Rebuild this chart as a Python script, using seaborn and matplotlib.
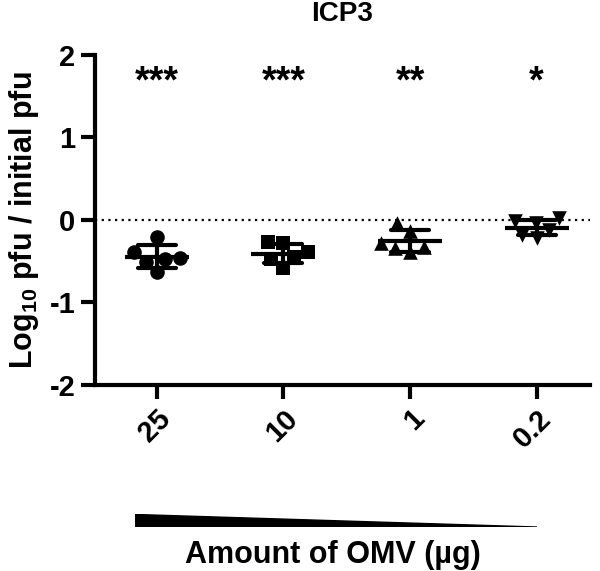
import numpy as np
import pandas as pd
import matplotlib
matplotlib.use("Agg")
import matplotlib.pyplot as plt
import seaborn as sns

# values (log10 pfu / initial pfu)
amounts = ["25", "10", "1", "0.2"]
vals_25 = [-0.21, -0.48, -0.63, -0.39, -0.51, -0.46]
vals_10 = [-0.28, -0.39, -0.58, -0.45, -0.48, -0.27]
vals_1 = [-0.14, -0.33, -0.04, -0.39, -0.34, -0.28]
vals_02 = [-0.02, -0.12, -0.22, -0.18, -0.04, 0.02]
stars = ["***", "***", "**", "*"]
markers = ["o", "s", "^", "v"]

df = pd.DataFrame({
    "amount": np.repeat(amounts, 6),
    "value": vals_25 + vals_10 + vals_1 + vals_02,
})

sns.set_style("ticks")
plt.rcParams["font.family"] = ["Liberation Sans", "DejaVu Sans"]
plt.rcParams["font.weight"] = "bold"
plt.rcParams["text.color"] = "black"
plt.rcParams["axes.edgecolor"] = "black"
plt.rcParams["axes.labelcolor"] = "black"
plt.rcParams["xtick.color"] = "black"
plt.rcParams["ytick.color"] = "black"
plt.rcParams["axes.unicode_minus"] = False
plt.rcParams["mathtext.fontset"] = "custom"
plt.rcParams["mathtext.rm"] = "Liberation Sans:bold"
plt.rcParams["mathtext.bf"] = "Liberation Sans:bold"
plt.rcParams["mathtext.default"] = "bf"

fig = plt.figure(figsize=(6, 5.71), dpi=100)
ax = fig.add_axes([0.158, 0.326, 0.825, 0.578])

# individual replicates
for a, m in zip(amounts, markers):
    sns.swarmplot(data=df[df["amount"] == a], x="amount", y="value", order=amounts,
                  marker=m, size=10.5, color="black", ax=ax, zorder=3)

# mean +/- SD
sns.pointplot(data=df, x="amount", y="value", order=amounts, errorbar="sd",
              capsize=0.3, linestyle="none", marker="_", markersize=46,
              markeredgewidth=3, color="black", err_kws={"linewidth": 3}, ax=ax)

ax.axhline(0, color="black", linestyle=(0, (1, 2)), linewidth=1.6, zorder=1)

for i, s in enumerate(stars):
    ax.text(i, 1.66, s, ha="center", va="center", fontsize=27, fontweight="bold")

ax.set_ylim(-2, 2)
ax.set_xlim(-0.49, 3.42)
ax.set_yticks([-2, -1, 0, 1, 2])
ax.set_yticklabels(["-2", "-1", "0", "1", "2"], fontsize=21, fontweight="bold")
ax.set_xticks(range(len(amounts)))
ax.set_xticklabels(amounts, fontsize=21, fontweight="bold", rotation=45,
                   ha="right", rotation_mode="anchor")
ax.set_xlabel("")
ax.set_ylabel(r"Log$_{10}$ pfu / initial pfu", fontsize=22, fontweight="bold", labelpad=6)
ax.set_title("ICP3", fontsize=20, fontweight="bold", pad=24)

for side in ["top", "right"]:
    ax.spines[side].set_visible(False)
for side in ["left", "bottom"]:
    ax.spines[side].set_linewidth(3)
ax.tick_params(width=3, length=10, pad=4)

# decreasing amount wedge
wax = fig.add_axes([0.225, 0.077, 0.67, 0.022])
wax.fill([0, 0, 1], [0, 1, 0], color="black")
wax.set_xlim(0, 1)
wax.set_ylim(0, 1)
wax.axis("off")

fig.text(0.555, 0.028, "Amount of OMV (µg)", ha="center", va="center",
         fontsize=22, fontweight="bold")

fig.savefig("out.png", dpi=100)
